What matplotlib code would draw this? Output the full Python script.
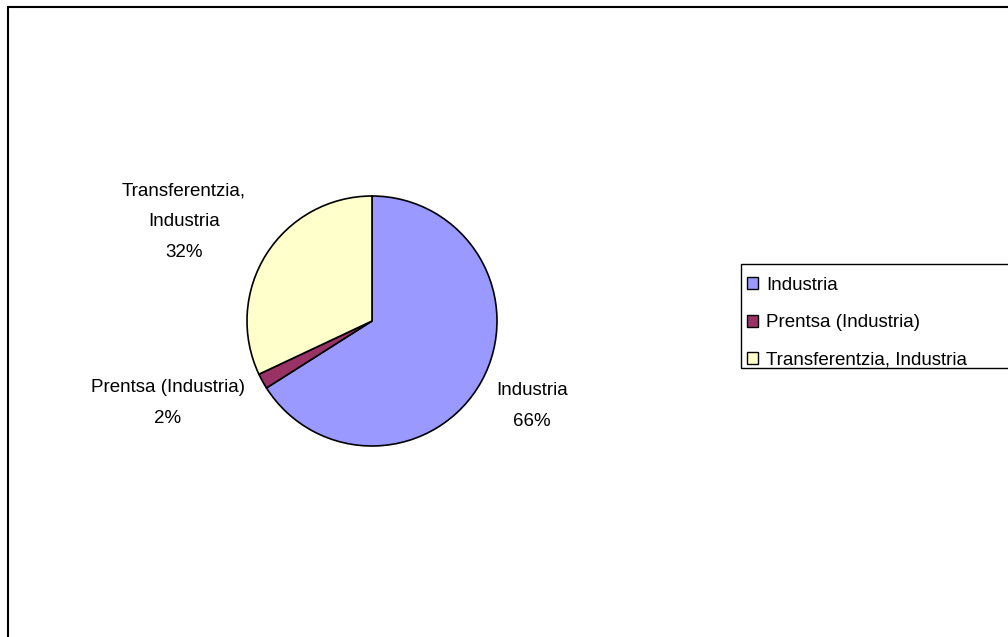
import matplotlib.pyplot as plt
from matplotlib.patches import Rectangle

plt.rcParams['font.family'] = ['Liberation Sans', 'DejaVu Sans']

# data
categories = ['Industria', 'Prentsa (Industria)', 'Transferentzia, Industria']
values = [66, 2, 32]
colors = ['#9999FF', '#993366', '#FFFFCC']
label_texts = ['Industria\n66%', 'Prentsa (Industria)\n2%', 'Transferentzia,\nIndustria\n32%']

W, H = 1008, 637
fig = plt.figure(figsize=(W / 100, H / 100), dpi=100)
ax = fig.add_axes([0, 0, 1, 1])

# outer frame (clipped by figure on right/bottom)
ax.add_patch(Rectangle((7.5, -20), 1100, H - 6.5 + 20, fill=False,
                       edgecolor='black', linewidth=1.5))

wedges, _ = ax.pie(values, colors=colors, startangle=90, counterclock=False,
                   center=(372, H - 321), radius=125,
                   wedgeprops=dict(edgecolor='black', linewidth=1.2),
                   frame=True)
ax.set_xlim(0, W)
ax.set_ylim(0, H)
ax.set_aspect('equal')
ax.axis('off')

# data labels
label_pos = [(532, 406), (168, 403), (184, 222)]
for txt, (x, y) in zip(label_texts, label_pos):
    ax.text(x, H - y, txt, ha='center', va='center', fontsize=13.5,
            linespacing=2.05)

# legend frame drawn separately so it runs off the right edge
ax.add_patch(Rectangle((741, H - 368), 300, 104, fill=False,
                       edgecolor='black', linewidth=1.0))
leg = fig.legend(wedges, categories, loc='upper left',
                 bbox_to_anchor=(741 / W, 1 - 271 / H), fontsize=13.5,
                 frameon=False,
                 handlelength=0.6, handleheight=0.6, handletextpad=0.45,
                 labelspacing=1.1, borderpad=0.3, borderaxespad=0)
for h in leg.legend_handles:
    h.set_linewidth(1.0)

fig.savefig('out.png', dpi=100)
